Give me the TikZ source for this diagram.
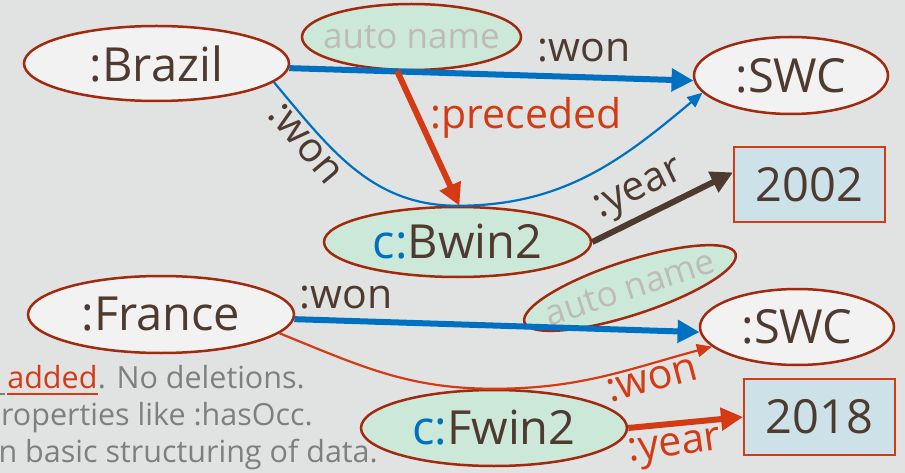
\documentclass[tikz,border=0pt]{standalone}
\usepackage{fontspec}
\setmainfont{Open Sans}
\usetikzlibrary{shapes.geometric,arrows.meta,calc}

\definecolor{bg}{HTML}{E1E3E2}
\definecolor{rim}{HTML}{A0290E}
\definecolor{paper}{HTML}{F2F2F2}
\definecolor{mint}{HTML}{CCE8D9}
\definecolor{sky}{HTML}{CCE2E8}
\definecolor{accent}{HTML}{D43A14}
\definecolor{ink}{HTML}{4E3A2E}
\definecolor{wonblue}{HTML}{0070C0}
\definecolor{faint}{HTML}{BFBBB9}
\definecolor{note}{HTML}{7F7F7F}

\newcommand\NodeSize{\fontsize{47}{56}\selectfont}
\newcommand\LabelSize{\fontsize{41}{49}\selectfont}
\newcommand\AutoSize{\fontsize{35}{42}\selectfont}
\newcommand\NoteSize{\fontsize{30.5}{37}\selectfont}

\begin{document}
\begin{tikzpicture}[x=1pt,y=-1pt,
  entity/.style={ellipse, draw=rim, line width=2.5pt, fill=paper, inner sep=0pt,
    text=ink, font=\NodeSize},
  occ/.style={entity, fill=mint},
  autoname/.style={ellipse, draw=rim, line width=2.5pt, fill=mint, inner sep=0pt},
  autotext/.style={text=faint, font=\AutoSize, inner sep=0pt},
  lit/.style={rectangle, draw=accent, line width=2pt, fill=sky, inner sep=0pt,
    minimum width=151pt, minimum height=75pt, text=ink, font=\NodeSize},
  heavy/.style={line width=6pt, -{Triangle[length=22pt,width=22pt]}},
  light/.style={line width=2.2pt, -{Triangle[length=15pt,width=13pt]}},
  lbl/.style={font=\LabelSize, inner sep=0pt},
  notetxt/.style={font=\NoteSize, text=note, inner sep=0pt}]

\useasboundingbox (0,0) rectangle (905,473);
\fill[bg] (0,0) rectangle (905,473);

% ---- nodes ----
\node[entity, minimum width=265pt, minimum height=75pt] (brazil) at (156.5,63.5) {:Brazil};
\node[autoname, minimum width=219pt, minimum height=66pt,
      label={[autotext]center:auto name}] (autoA) at (411.5,37) {};
\node[entity, minimum width=194pt, minimum height=77pt] (swcA) at (791,75.5) {:SWC};
\node[lit] (y2002) at (809.5,184.5) {2002};
\node[occ, minimum width=267pt, minimum height=70pt] (bwin) at (457.5,242)
      {\textcolor{wonblue}{c:}Bwin2};

\node[entity, minimum width=266pt, minimum height=77pt] (france) at (161,314.5) {:France};
\node[autoname, minimum width=222pt, minimum height=54pt, rotate=18,
      label={[autotext, rotate=18]center:auto name}] (autoB) at (630,288) {};
\node[entity, minimum width=194pt, minimum height=76pt] (swcB) at (797,327) {:SWC};
\node[lit, minimum height=76pt] (y2018) at (819.5,417) {2018};
\node[occ, minimum width=266pt, minimum height=76pt] (fwin) at (494,428)
      {\textcolor{wonblue}{c:}Fwin2};

% ---- Brazil statements ----
\draw[heavy, wonblue] (brazil.-2) -- (swcA.183);
\draw[light, wonblue] (brazil.-9.5) to[out=-50,in=180] (bwin.north)
      to[out=0,in=-140] (swcA.191);
\draw[heavy, accent] (autoA.-113) -- (bwin.87);
\draw[heavy, ink] (bwin.east) -- (y2002.171);

\node[lbl, text=ink] (wonA) at (584,51) {:won};
\node[lbl, text=ink, rotate=-50] (wonA2) at (305,144) {:won};
\node[lbl, text=accent] (prec) at (526,118) {:preceded};
\node[lbl, text=ink, rotate=26] (yearA) at (640,192) {:year};

% ---- France statements ----
\draw[heavy, wonblue] (france.-2) -- (swcB.183);
\draw[light, accent] (france.-9.5) to[out=-22,in=180] (fwin.north)
      to[out=0,in=-165] (swcB.193);
\draw[heavy, accent] (fwin.east) -- (y2018.west);

\node[lbl, text=ink] (wonB) at (346,298) {:won};
\node[lbl, text=accent, rotate=15] (wonB2) at (652,380) {:won};
\node[lbl, text=accent, rotate=8] (yearB) at (675,449) {:year};

% ---- side note (runs off the left edge) ----
\begin{scope}
\clip (0,0) rectangle (905,473);
\node[notetxt, anchor=base east] (n1) at (305,388) {. No deletions.};
\node[notetxt, anchor=base east, text=accent] (n1a) at (n1.base west) {added};
\draw[accent, line width=2.6pt] ([yshift=-6pt]n1a.base west) -- ([yshift=-6pt]n1a.base east);
\draw[note, line width=2.6pt] ([yshift=-6pt,xshift=-2pt]n1a.base west) -- ++(-20,0);
\node[notetxt, anchor=base east] (n2) at (313,425) {roperties like :hasOcc.};
\node[notetxt, anchor=base east] (n3) at (378,462) {n basic structuring of data.};
\end{scope}
\end{tikzpicture}
\end{document}
